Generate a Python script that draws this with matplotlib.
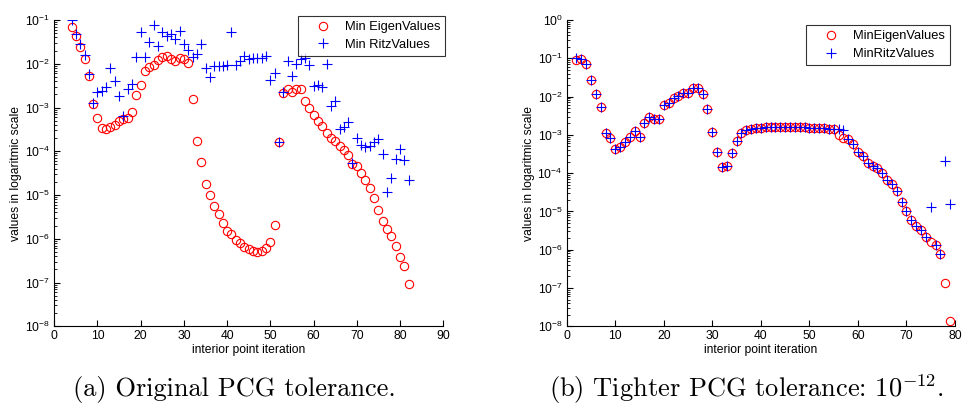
import matplotlib
matplotlib.use("Agg")
import matplotlib.pyplot as plt
import numpy as np

# ---- data ----
left_iter = list(range(4, 83))
left_eig = [
    0.068, 0.043, 0.0245, 0.013, 0.0052, 0.00123, 0.00059, 0.00034, 0.00032, 0.00035,
    0.00039, 0.00049, 0.00054, 0.00058, 0.00078, 0.0019, 0.0032, 0.0069, 0.0083, 0.0093,
    0.0122, 0.014, 0.015, 0.0126, 0.0115, 0.0133, 0.0126, 0.0102, 0.00153, 0.00017,
    5.7e-5, 1.77e-5, 9.9e-6, 5.6e-6, 3.6e-6, 2.3e-6, 1.5e-6, 1.3e-6, 9.3e-7, 8.0e-7,
    6.5e-7, 5.8e-7, 5.3e-7, 5.0e-7, 5.3e-7, 6.3e-7, 8.6e-7, 2.1e-6, 1.6e-4, 0.0021,
    0.0026, 0.0023, 0.0027, 0.0027, 0.0014, 0.001, 0.00067, 0.0005, 0.00037, 0.00026,
    0.0002, 0.00017, 0.000133, 0.000107, 8.0e-5, 5.2e-5, 4.6e-5, 3.2e-5, 2.2e-5, 1.46e-5,
    8.5e-6, 4.5e-6, 2.6e-6, 1.66e-6, 1.13e-6, 6.9e-7, 3.9e-7, 2.4e-7, 9.3e-8,
]
left_ritz = [
    0.1, 0.048, 0.028, 0.0156, 0.0058, 0.00126, 0.0023, 0.0024, 0.0029, 0.0079,
    0.004, 0.0018, 0.00063, 0.0026, 0.0034, 0.0145, 0.053, 0.0145, 0.031, 0.077,
    0.025, 0.052, 0.044, 0.047, 0.036, 0.057, 0.029, 0.0206, 0.0145, 0.017,
    0.028, 0.0079, 0.005, 0.0089, 0.009, 0.009, 0.0093, 0.053, 0.0093, 0.0115,
    0.015, 0.0129, 0.0133, 0.0135, 0.0133, 0.015, 0.0042, 0.006, 0.00016, 0.0023,
    0.0115, 0.0053, 0.0097, 0.0129, 0.0133, 0.0093, 0.0031, 0.0032, 0.0029, 0.01,
    0.00108, 0.0014, 0.00032, 0.00036, 0.00047, 5.3e-5, 2.0e-4, 1.4e-4, 1.26e-4, 1.3e-4,
    1.6e-4, 1.95e-4, 8.5e-5, 1.15e-5, 2.4e-5, 6.5e-5, 1.1e-4, 6.3e-5, 2.2e-5,
]

right_iter = list(range(2, 80))
right_eig = [
    0.09, 0.094, 0.071, 0.027, 0.012, 0.0055, 0.00114, 0.00083, 0.00042, 0.00048,
    0.00064, 0.00087, 0.00129, 0.00087, 0.0021, 0.0029, 0.0026, 0.0026, 0.0062, 0.0067,
    0.0091, 0.0105, 0.0122, 0.0127, 0.017, 0.0164, 0.0115, 0.0047, 0.0012, 0.00036,
    0.000148, 0.000158, 0.00033, 0.00069, 0.0011, 0.00134, 0.00145, 0.0015, 0.00155, 0.0016,
    0.0016, 0.0016, 0.0016, 0.0016, 0.0016, 0.0016, 0.0016, 0.00158, 0.00155, 0.00152,
    0.0015, 0.00147, 0.00145, 0.00142, 0.001, 0.00085, 0.00076, 0.00056, 0.00035, 0.00028,
    0.000187, 0.000155, 0.000135, 0.0001, 6.5e-5, 5.2e-5, 3.5e-5, 1.8e-5, 1.0e-5, 5.8e-6,
    4.2e-6, 3.2e-6, 2.2e-6, 1.58e-6, 1.3e-6, 7.8e-7, 1.38e-7, 1.4e-8,
]
right_ritz = [
    0.1, 0.094, 0.071, 0.027, 0.012, 0.0055, 0.00114, 0.00083, 0.00042, 0.00048,
    0.00064, 0.00087, 0.00129, 0.00087, 0.0021, 0.0029, 0.0026, 0.0026, 0.0062, 0.0067,
    0.0091, 0.0105, 0.0122, 0.0127, 0.017, 0.0164, 0.0115, 0.0047, 0.0012, 0.00036,
    0.000148, 0.000158, 0.00033, 0.00069, 0.0011, 0.00134, 0.00145, 0.0015, 0.00155, 0.0016,
    0.0016, 0.0016, 0.0016, 0.0016, 0.0016, 0.0016, 0.0016, 0.00158, 0.00155, 0.00152,
    0.0015, 0.00147, 0.00145, 0.00142, 0.0014, 0.00135, 0.0008, 0.00056, 0.00035, 0.00028,
    0.000187, 0.000155, 0.000135, 0.0001, 6.5e-5, 5.2e-5, 3.5e-5, 1.8e-5, 1.0e-5, 5.8e-6,
    4.2e-6, 3.2e-6, 2.2e-6, 1.3e-5, 1.3e-6, 7.8e-7, 2.1e-4, 1.58e-5,
]

plt.rcParams["font.family"] = ["Liberation Sans", "DejaVu Sans"]
plt.rcParams["mathtext.fontset"] = "custom"
plt.rcParams["mathtext.rm"] = "Liberation Sans"
plt.rcParams["mathtext.it"] = "Liberation Sans:italic"

fig = plt.figure(figsize=(9.64, 4.07), dpi=100)
ax1 = fig.add_axes([0.0563, 0.1983, 0.4035, 0.7526])
ax2 = fig.add_axes([0.5879, 0.1983, 0.4028, 0.7526])


def style(ax, xmax, ymin, ymax):
    ax.set_yscale("log")
    ax.set_xlim(0, xmax)
    ax.set_ylim(ymin, ymax)
    ax.set_xticks(np.arange(0, xmax + 1, 10))
    ax.spines[["top", "right"]].set_visible(False)
    ax.tick_params(direction="in", length=4, width=0.8, labelsize=8.7, pad=3)
    ax.tick_params(which="minor", direction="in", length=2, width=0.6)
    ax.set_xlabel("interior point iteration", fontsize=8.7, labelpad=1)
    ax.set_ylabel("values in logaritmic scale", fontsize=8.7, labelpad=2)


ax1.plot(left_iter, left_eig, "o", ls="none", mfc="none", mec="red", ms=6, mew=0.8,
         label="Min EigenValues")
ax1.plot(left_iter, left_ritz, "+", ls="none", color="blue", ms=6.5, mew=0.8,
         label="Min RitzValues")
style(ax1, 90, 1e-8, 1e-1)

ax2.plot(right_iter, right_eig, "o", ls="none", mfc="none", mec="red", ms=6, mew=0.8,
         label="MinEigenValues")
ax2.plot(right_iter, right_ritz, "+", ls="none", color="blue", ms=6.5, mew=0.8,
         label="MinRitzValues")
style(ax2, 80, 1e-8, 1e0)

for ax, anchor in [(ax1, (0.462, 0.961)), (ax2, (0.9855, 0.9386))]:
    leg = ax.legend(loc="upper right", bbox_to_anchor=anchor, bbox_transform=fig.transFigure,
                    fontsize=9.3, frameon=True, fancybox=False, borderaxespad=0,
                    handlelength=3.0, handletextpad=0.2, borderpad=0.4, labelspacing=0.45)
    leg.get_frame().set_edgecolor("black")
    leg.get_frame().set_linewidth(0.8)

plt.rcParams["mathtext.fontset"] = "cm"
fig.text(0.2435, 0.043, "(a) Original PCG tolerance.", family="cmr10", fontsize=19,
         ha="center", va="center")
fig.text(0.7745, 0.043, r"(b) Tighter PCG tolerance: $10^{-12}$.", family="cmr10",
         fontsize=19, ha="center", va="center")

fig.savefig("out.png", dpi=100)
